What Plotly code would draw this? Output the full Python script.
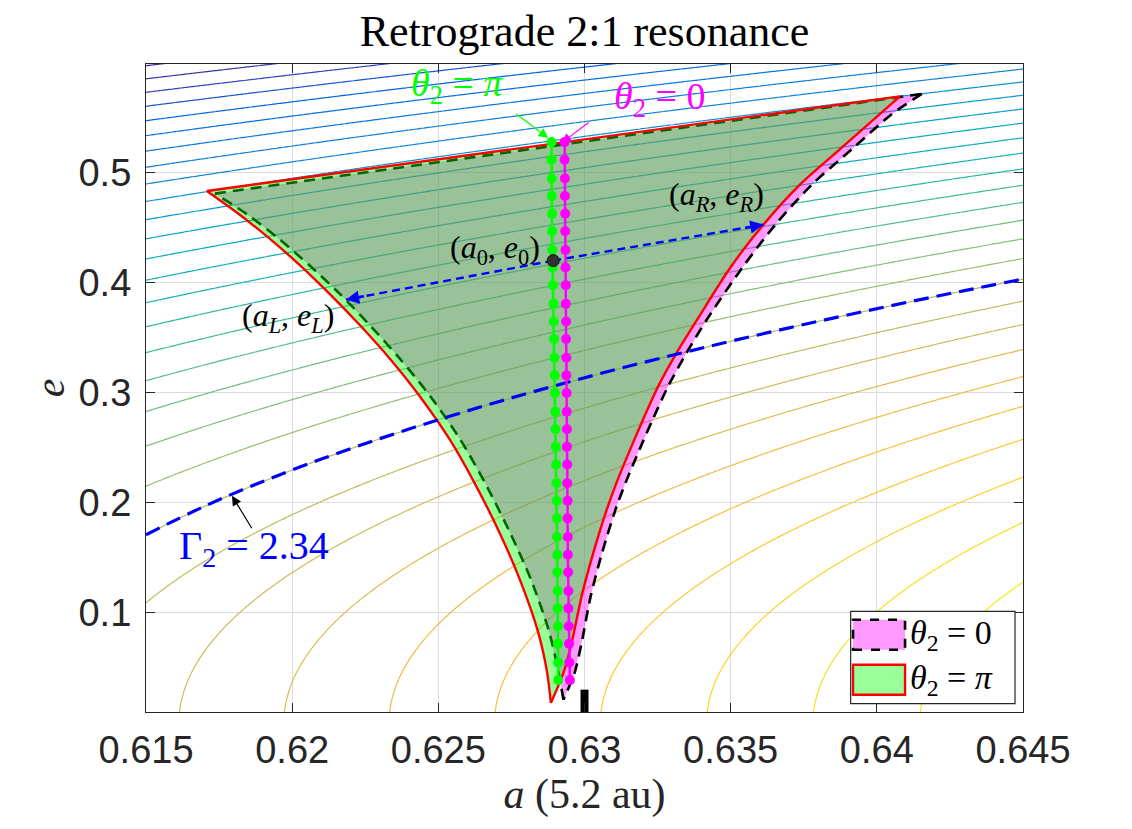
import numpy as np
import plotly.graph_objects as go

# ---------------- axes ----------------
A_RANGE = [0.615, 0.645]
E_RANGE = [0.01, 0.599]
A_TICKS = [0.615, 0.62, 0.625, 0.63, 0.635, 0.64, 0.645]
A_TICKTEXT = ["0.615", "0.62", "0.625", "0.63", "0.635", "0.64", "0.645"]
E_TICKS = [0.1, 0.2, 0.3, 0.4, 0.5]
E_TICKTEXT = ["0.1", "0.2", "0.3", "0.4", "0.5"]

# ---------------- Gamma2 contour levels ----------------
GAMMA_LEVELS = [2.1973, 2.2041, 2.2110, 2.2178, 2.2247, 2.2315, 2.2384, 2.2452,
                2.2521, 2.2589, 2.2658, 2.2726, 2.2795, 2.2863, 2.2932, 2.3000,
                2.3069, 2.3137, 2.3206, 2.3274, 2.3343, 2.3411, 2.3480, 2.3548,
                2.3617, 2.3685, 2.3754, 2.3822, 2.3891, 2.3959, 2.4028, 2.4096]

# Gamma2 = 2.34 curve
gamma_a = [0.615, 0.617, 0.619, 0.621, 0.623, 0.625, 0.627, 0.629,
           0.631, 0.633, 0.635, 0.637, 0.639, 0.641, 0.643, 0.645]
gamma_e = [0.1711, 0.1970, 0.2196, 0.2399, 0.2585, 0.2756, 0.2916, 0.3066,
           0.3208, 0.3342, 0.3470, 0.3592, 0.3709, 0.3822, 0.3930, 0.4035]

# theta2 = pi separatrix region (red edge, green fill):
# top-left vertex, top-right vertex, right branch down to the bottom tip, left branch back up
pi_a = [0.61708, 0.64079, 0.64011, 0.63874, 0.63737, 0.63612, 0.63498, 0.63389,
        0.63315, 0.63252, 0.63200, 0.63156, 0.63111, 0.63076, 0.63030, 0.62990,
        0.62956, 0.62928, 0.62885,
        0.62872, 0.62841, 0.62779, 0.62711, 0.62625, 0.62540, 0.62437, 0.62335,
        0.62232, 0.62129, 0.62027, 0.61924, 0.61822, 0.61708]
pi_e = [0.4836, 0.5696, 0.5536, 0.5216, 0.4894, 0.4530, 0.4136, 0.3682,
        0.3364, 0.3060, 0.2757, 0.2485, 0.2194, 0.1939, 0.1546, 0.1151,
        0.0727, 0.0455, 0.0182,
        0.0462, 0.0830, 0.1303, 0.1721, 0.2176, 0.2573, 0.2968, 0.3309,
        0.3615, 0.3898, 0.4160, 0.4400, 0.4618, 0.4836]
PI_TIP = 18

# theta2 = 0 separatrix region (black dashed edge, pink fill)
zero_a = [0.61736, 0.64154, 0.64052, 0.63915, 0.63778, 0.63653, 0.63539, 0.63422,
          0.63349, 0.63286, 0.63233, 0.63188, 0.63142, 0.63106, 0.63060, 0.63021,
          0.62990, 0.62966, 0.62928,
          0.62911, 0.62879, 0.62817, 0.62747, 0.62661, 0.62576, 0.62473, 0.62369,
          0.62266, 0.62164, 0.62059, 0.61955, 0.61849, 0.61736]
zero_e = [0.4812, 0.5718, 0.5536, 0.5216, 0.4894, 0.4530, 0.4136, 0.3682,
          0.3364, 0.3060, 0.2757, 0.2485, 0.2194, 0.1939, 0.1546, 0.1151,
          0.0727, 0.0455, 0.0212,
          0.0462, 0.0830, 0.1303, 0.1721, 0.2176, 0.2573, 0.2968, 0.3309,
          0.3615, 0.3898, 0.4160, 0.4400, 0.4618, 0.4812]
ZERO_TIP = 18

# families of theta2 = pi and theta2 = 0 fixed points
fam_e = [0.528, 0.512, 0.495, 0.479, 0.463, 0.447, 0.430, 0.414, 0.398, 0.381,
         0.365, 0.349, 0.332, 0.316, 0.300, 0.283, 0.267, 0.251, 0.235, 0.218,
         0.202, 0.186, 0.169, 0.153, 0.137, 0.120, 0.104, 0.088, 0.072, 0.055, 0.039]
fam_pi_a = [0.62887, 0.62887, 0.62888, 0.62888, 0.62889, 0.62889, 0.62890, 0.62891,
            0.62892, 0.62894, 0.62895, 0.62896, 0.62897, 0.62898, 0.62899, 0.62900,
            0.62901, 0.62902, 0.62903, 0.62904, 0.62905, 0.62906, 0.62906, 0.62907,
            0.62907, 0.62908, 0.62908, 0.62909, 0.62909, 0.62910, 0.62910]
fam_zero_a = [0.62932, 0.62932, 0.62933, 0.62933, 0.62934, 0.62934, 0.62935, 0.62935,
              0.62936, 0.62936, 0.62937, 0.62937, 0.62938, 0.62938, 0.62939, 0.62939,
              0.62940, 0.62940, 0.62941, 0.62941, 0.62942, 0.62942, 0.62943, 0.62943,
              0.62944, 0.62945, 0.62945, 0.62946, 0.62947, 0.62948, 0.62950]

# special points
a0, e0 = 0.62893, 0.4203
aL, eL = 0.62184, 0.3848
aR, eR = 0.63612, 0.4530
A_NOMINAL = 0.63
NOMINAL_E = [0.01, 0.0303]

# ---------------- styles ----------------
PARULA = [[0/63, "#352a87"], [4/63, "#3243ba"], [8/63, "#0363e1"], [12/63, "#0d75dc"],
          [16/63, "#1485d4"], [20/63, "#0998d1"], [24/63, "#06a7c6"], [28/63, "#15b1b4"],
          [32/63, "#38b99e"], [36/63, "#65be86"], [40/63, "#92bf73"], [44/63, "#b7bd64"],
          [48/63, "#d9ba56"], [52/63, "#f8bb44"], [56/63, "#fcce2e"], [60/63, "#f5e41d"],
          [1.0, "#f9fb0e"]]
SERIF = "Liberation Serif"
SANS = "Liberation Sans"
GREEN = "#00ff00"
MAGENTA = "#ff00ff"
BLUE = "#0000ff"
ZERO_DASH = "11px,7px"

# Gamma2 field evaluated on a grid for the background contours
a_grid = np.linspace(0.6145, 0.6455, 311)
e_grid = np.linspace(0.0, 0.61, 306)
AA, EE = np.meshgrid(a_grid, e_grid)
Z = np.sqrt(AA) * (2.0 + np.sqrt(1.0 - EE ** 2))

fig = go.Figure()

fig.add_trace(go.Contour(
    x=a_grid, y=e_grid, z=Z, autocontour=False,
    contours=dict(start=GAMMA_LEVELS[0], end=GAMMA_LEVELS[-1],
                  size=(GAMMA_LEVELS[-1] - GAMMA_LEVELS[0]) / (len(GAMMA_LEVELS) - 1),
                  coloring="lines"),
    colorscale=PARULA, zmin=GAMMA_LEVELS[0], zmax=GAMMA_LEVELS[-1], showscale=False,
    line=dict(width=1.2), hoverinfo="skip", showlegend=False))


def edge(xs, ys, color, width, dash=None, spline=True):
    fig.add_trace(go.Scatter(
        x=xs, y=ys, mode="lines",
        line=dict(color=color, width=width, dash=dash, shape="spline" if spline else "linear",
                  smoothing=0.8),
        showlegend=False, hoverinfo="skip"))


# theta2 = 0 region: pink fill + black dashed outline
fig.add_trace(go.Scatter(
    x=zero_a, y=zero_e, mode="lines", fill="toself", fillcolor="rgba(255,0,255,0.4)",
    line=dict(width=0), name="θ2 = 0", showlegend=False))
edge(zero_a[0:2], zero_e[0:2], "black", 2.6, ZERO_DASH, spline=False)
edge(zero_a[1:ZERO_TIP + 1], zero_e[1:ZERO_TIP + 1], "black", 2.6, ZERO_DASH)
edge(zero_a[ZERO_TIP:], zero_e[ZERO_TIP:], "black", 2.6, ZERO_DASH)

# theta2 = pi region: green fill + red outline (drawn on top)
fig.add_trace(go.Scatter(
    x=pi_a, y=pi_e, mode="lines", fill="toself", fillcolor="rgba(0,255,0,0.4)",
    line=dict(width=0), name="θ2 = π", showlegend=False))
edge(pi_a[0:2], pi_e[0:2], "#ff0000", 2.4, spline=False)
edge(pi_a[1:PI_TIP + 1], pi_e[1:PI_TIP + 1], "#ff0000", 2.4)
edge(pi_a[PI_TIP:], pi_e[PI_TIP:], "#ff0000", 2.4)

fig.add_trace(go.Scatter(
    x=gamma_a, y=gamma_e, mode="lines", line=dict(color=BLUE, width=3.2, dash="15px,8px", shape="spline"),
    showlegend=False, hoverinfo="skip"))

fig.add_trace(go.Scatter(
    x=[a0, aL], y=[e0, eL], mode="lines", line=dict(color=BLUE, width=2.4, dash="8px,5px"),
    showlegend=False, hoverinfo="skip"))
fig.add_trace(go.Scatter(
    x=[a0, aR], y=[e0, eR], mode="lines", line=dict(color=BLUE, width=2.4, dash="8px,5px"),
    showlegend=False, hoverinfo="skip"))

fig.add_trace(go.Scatter(
    x=fam_pi_a, y=fam_e, mode="lines+markers", line=dict(color=GREEN, width=2.5),
    marker=dict(color=GREEN, size=10), showlegend=False))
fig.add_trace(go.Scatter(
    x=fam_zero_a, y=fam_e, mode="lines+markers", line=dict(color=MAGENTA, width=2.5),
    marker=dict(color=MAGENTA, size=10), showlegend=False))

fig.add_trace(go.Scatter(
    x=[a0], y=[e0], mode="markers", marker=dict(color="#333333", size=12,
    line=dict(color="#111111", width=1)), showlegend=False))

fig.add_trace(go.Scatter(
    x=[A_NOMINAL, A_NOMINAL], y=NOMINAL_E, mode="lines", line=dict(color="black", width=8),
    showlegend=False, hoverinfo="skip"))

annotations = []
def label(x, y, text, size, color="black", xanchor="center"):
    annotations.append(dict(x=x, y=y, xref="x", yref="y", text=text, showarrow=False,
                            xanchor=xanchor, yanchor="middle",
                            font=dict(family=SERIF, size=size, color=color)))

def arrow(xh, yh, xt, yt, color, width, size=1.0, head=2):
    annotations.append(dict(x=xh, y=yh, ax=xt, ay=yt, xref="x", yref="y", axref="x", ayref="y",
                            text="", showarrow=True, arrowhead=head, arrowsize=size,
                            arrowwidth=width, arrowcolor=color, standoff=0))

label(0.62564, 0.5794, "<i>θ</i><sub>2</sub> = <i>π</i>", 38, GREEN)
label(0.63255, 0.5676, "<i>θ</i><sub>2</sub> = 0", 38, MAGENTA)
label(0.61869, 0.1594, "Γ<sub>2</sub> = 2.34", 40, BLUE)
label(0.62694, 0.4303, "(<i>a</i><sub>0</sub>, <i>e</i><sub>0</sub>)", 32)
label(0.61986, 0.3685, "(<i>a</i><sub><i>L</i></sub>, <i>e</i><sub><i>L</i></sub>)", 32)
label(0.63452, 0.4787, "(<i>a</i><sub><i>R</i></sub>, <i>e</i><sub><i>R</i></sub>)", 32)

arrow(0.62876, 0.5318, 0.62762, 0.5546, GREEN, 1.2, 1.6)
arrow(0.62922, 0.5273, 0.63019, 0.5469, MAGENTA, 1.2, 1.6)
arrow(0.61794, 0.2066, 0.61865, 0.1757, "black", 1.2, 1.6)
arrow(aL, eL, 0.62251, 0.3882, BLUE, 2.4, 1.1)
arrow(aR, eR, 0.63544, 0.4498, BLUE, 2.4, 1.1)

# manual legend (paper coordinates)
shapes = [
    dict(type="rect", xref="paper", yref="paper", x0=0.8035, x1=0.9909, y0=0.0128, y1=0.1552,
         line=dict(color="#262626", width=1.2), fillcolor="white", layer="above"),
    dict(type="rect", xref="paper", yref="paper", x0=0.8062, x1=0.8655, y0=0.0961, y1=0.1424,
         line=dict(color="black", width=2.6, dash="dash"), fillcolor="#ff99ff", layer="above"),
    dict(type="rect", xref="paper", yref="paper", x0=0.8062, x1=0.8655, y0=0.0267, y1=0.0730,
         line=dict(color="#ff0000", width=2.4), fillcolor="#99ff99", layer="above"),
]
annotations.append(dict(x=0.8689, y=0.1193, xref="paper", yref="paper", xanchor="left", yanchor="middle",
                        text="<i>θ</i><sub>2</sub> = 0", showarrow=False,
                        font=dict(family=SERIF, size=34, color="black")))
annotations.append(dict(x=0.8689, y=0.0499, xref="paper", yref="paper", xanchor="left", yanchor="middle",
                        text="<i>θ</i><sub>2</sub> = <i>π</i>", showarrow=False,
                        font=dict(family=SERIF, size=34, color="black")))

axis_common = dict(ticks="inside", ticklen=9, tickwidth=1, tickcolor="#262626",
                   showline=True, linecolor="#262626", linewidth=1.2, mirror="ticks",
                   showgrid=True, gridcolor="#dcdcdc", gridwidth=1, zeroline=False,
                   tickfont=dict(family=SANS, size=38, color="#262626"))

fig.update_xaxes(range=A_RANGE, tickvals=A_TICKS, ticktext=A_TICKTEXT, ticklabelstandoff=4,
                 title=dict(text="<i>a</i> (5.2 au)", standoff=6,
                            font=dict(family=SERIF, size=42, color="#262626")),
                 **axis_common)
fig.update_yaxes(range=E_RANGE, tickvals=E_TICKS, ticktext=E_TICKTEXT, ticklabelstandoff=6,
                 title=dict(text="<i>e</i>", standoff=0,
                            font=dict(family=SERIF, size=42, color="#262626")),
                 **axis_common)

fig.update_layout(
    width=1132, height=829,
    margin=dict(l=138, r=117, t=56, b=125),
    plot_bgcolor="white", paper_bgcolor="white",
    title=dict(text="Retrograde 2:1 resonance", x=0.5, xref="paper", xanchor="center",
               y=1 - 23 / 829, yref="container", yanchor="middle",
               font=dict(family=SERIF, size=44, color="black")),
    annotations=annotations, shapes=shapes, showlegend=False,
)

fig.write_html("out.html")
